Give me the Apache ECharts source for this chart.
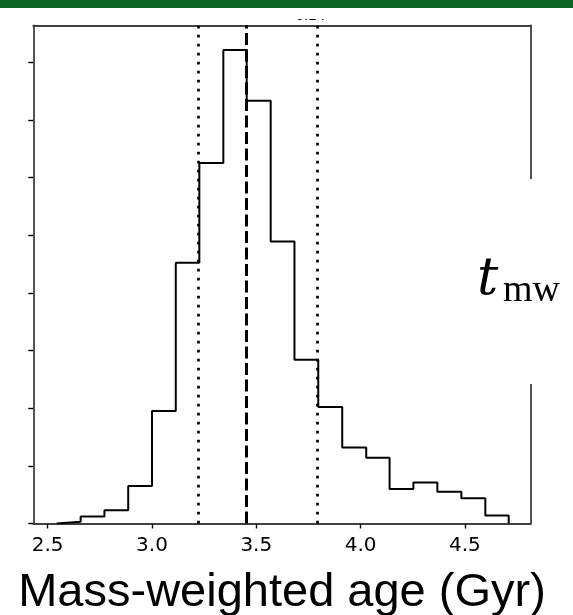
<!DOCTYPE html>
<html>
<head>
<meta charset="utf-8">
<script src="https://cdn.jsdelivr.net/npm/echarts@6/dist/echarts.min.js"></script>
<style>html,body{margin:0;padding:0;background:#fff}#c{width:573px;height:615px}</style>
</head>
<body>
<div id="c"></div>
<script>
// Histogram bin edges (Gyr) and heights (in y-tick units)
const binEdges = [2.543, 2.658, 2.772, 2.886, 3.000, 3.114, 3.227, 3.342, 3.454, 3.569, 3.683, 3.797, 3.912, 4.027, 4.139, 4.253, 4.368, 4.483, 4.598, 4.710];
const binHeights = [0.03, 0.12, 0.23, 0.65, 1.95, 4.52, 6.25, 8.21, 7.33, 4.89, 2.84, 2.02, 1.32, 1.14, 0.60, 0.71, 0.55, 0.44, 0.14];
const xTickValues = [2.5, 3.0, 3.5, 4.0, 4.5];
const yTickValues = [0, 1, 2, 3, 4, 5, 6, 7, 8];
const medianAge = 3.454;
const percentileAges = [3.219, 3.790];
const xLabelText = 'Mass-weighted age (Gyr)';
const clippedTitleText = '0.24';

const stepData = [[binEdges[0], 0]];
binHeights.forEach((h, i) => stepData.push([binEdges[i], h]));
stepData.push([binEdges[binEdges.length - 1], binHeights[binHeights.length - 1]]);
stepData.push([binEdges[binEdges.length - 1], 0]);

const frame = { show: true, onZero: false, lineStyle: { color: '#404040', width: 1.8 } };
const chart = echarts.init(document.getElementById('c'), null, { renderer: 'canvas' });
chart.setOption({
  animation: false,
  grid: { left: 33.3, right: 42.3, top: 25.3, bottom: 91.5, containLabel: false, outerBoundsMode: 'none' },
  xAxis: [{
    type: 'value', min: 2.431, max: 4.8155, position: 'bottom',
    axisLine: frame,
    axisTick: { show: true, customValues: xTickValues, length: 5, lineStyle: { color: '#000', width: 1.4 } },
    axisLabel: { customValues: xTickValues, formatter: v => v.toFixed(1), fontFamily: 'DejaVu Sans', fontSize: 20, color: '#000', margin: 12 },
    splitLine: { show: false },
    name: xLabelText, nameLocation: 'middle', nameGap: 46,
    nameTextStyle: { fontFamily: 'Liberation Sans', fontSize: 47, color: '#000' }
  }, {
    type: 'value', min: 2.431, max: 4.8155, position: 'top',
    axisLine: frame, axisTick: { show: false }, axisLabel: { show: false }, splitLine: { show: false }
  }],
  yAxis: [{
    type: 'value', min: 0, max: 8.64, position: 'left',
    axisLine: frame,
    axisTick: { show: true, customValues: yTickValues, length: 5, lineStyle: { color: '#000', width: 1.4 } },
    axisLabel: { show: false }, splitLine: { show: false }
  }, {
    type: 'value', min: 0, max: 8.64, position: 'right',
    axisLine: frame, axisTick: { show: false }, axisLabel: { show: false }, splitLine: { show: false }
  }],
  series: [{
    type: 'line', xAxisIndex: 0, yAxisIndex: 0, step: 'end', data: stepData,
    showSymbol: false, symbol: 'none',
    lineStyle: { color: '#000', width: 2 },
    markLine: {
      silent: true, symbol: 'none', label: { show: false },
      data: [
        { xAxis: medianAge, lineStyle: { color: '#000', width: 3, type: [12, 4.5], cap: 'butt' } },
        { xAxis: percentileAges[0], lineStyle: { color: '#000', width: 2.7, type: [2.7, 6.3], cap: 'butt' } },
        { xAxis: percentileAges[1], lineStyle: { color: '#000', width: 2.7, type: [2.7, 6.3], cap: 'butt' } }
      ]
    }
  }],
  graphic: [
    { type: 'text', z: 99, x: 295.5, y: 16.5, style: { text: clippedTitleText, fontFamily: 'DejaVu Sans', fontSize: 13.5, fill: '#000', verticalAlign: 'middle' } },
    { type: 'rect', z: 100, shape: { x: 0, y: 0, width: 573, height: 19 }, style: { fill: '#fff' } },
    { type: 'rect', z: 101, shape: { x: 0, y: 0, width: 573, height: 8 }, style: { fill: '#0a6424' } },
    { type: 'rect', z: 100, shape: { x: 526, y: 179, width: 10, height: 205 }, style: { fill: '#fff' } },
    { type: 'text', z: 101, x: 477, y: 307, style: { text: 't', fontFamily: 'DejaVu Serif', fontStyle: 'italic', fontSize: 53, fill: '#000', verticalAlign: 'bottom' } },
    { type: 'text', z: 101, x: 503, y: 310, style: { text: 'mw', fontFamily: 'Liberation Serif', fontSize: 38, fill: '#000', verticalAlign: 'bottom' } }
  ]
});
</script>
</body>
</html>
